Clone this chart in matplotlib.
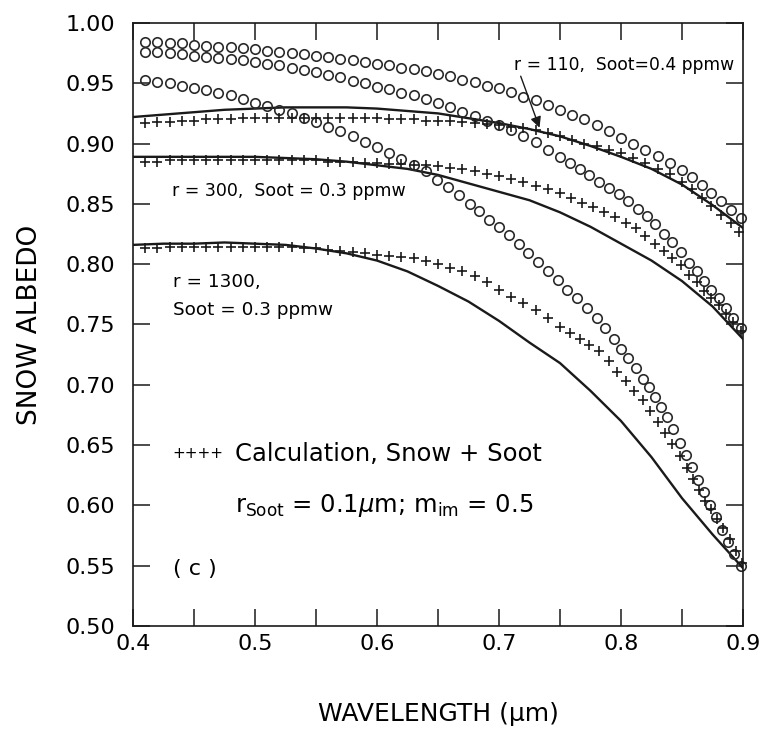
import numpy as np
import matplotlib.pyplot as plt
from matplotlib.ticker import MultipleLocator, FormatStrFormatter

# --- data ---
# r = 110 um
wl_r110_snow = [0.41, 0.42, 0.43, 0.44, 0.45, 0.46, 0.47, 0.48, 0.49, 0.50,
                0.51, 0.52, 0.53, 0.54, 0.55, 0.56, 0.57, 0.58, 0.59, 0.60,
                0.61, 0.62, 0.63, 0.64, 0.65, 0.66, 0.67, 0.68, 0.69, 0.70,
                0.71, 0.72, 0.73, 0.74, 0.75, 0.76, 0.77, 0.78, 0.79, 0.80,
                0.81, 0.82, 0.83, 0.84, 0.85, 0.858, 0.866, 0.874, 0.882, 0.890, 0.898]
alb_r110_snow = [0.984, 0.984, 0.983, 0.983, 0.982, 0.981, 0.980, 0.980, 0.979, 0.978,
                 0.977, 0.976, 0.975, 0.974, 0.973, 0.972, 0.970, 0.969, 0.968, 0.966,
                 0.965, 0.963, 0.962, 0.960, 0.958, 0.956, 0.953, 0.951, 0.948, 0.946,
                 0.943, 0.939, 0.936, 0.932, 0.928, 0.924, 0.920, 0.915, 0.910, 0.905,
                 0.900, 0.895, 0.890, 0.884, 0.878, 0.872, 0.866, 0.859, 0.852, 0.845, 0.838]

wl_r110_soot = [0.41, 0.42, 0.43, 0.44, 0.45, 0.46, 0.47, 0.48, 0.49, 0.50,
                0.51, 0.52, 0.53, 0.54, 0.55, 0.56, 0.57, 0.58, 0.59, 0.60,
                0.61, 0.62, 0.63, 0.64, 0.65, 0.66, 0.67, 0.68, 0.69, 0.70,
                0.71, 0.72, 0.73, 0.74, 0.75, 0.76, 0.77, 0.78, 0.79, 0.80,
                0.81, 0.82, 0.83, 0.84, 0.85, 0.858, 0.866, 0.874, 0.882, 0.890, 0.897]
alb_r110_soot = [0.917, 0.918, 0.918, 0.919, 0.919, 0.920, 0.920, 0.920, 0.921, 0.921,
                 0.921, 0.921, 0.921, 0.921, 0.921, 0.921, 0.921, 0.921, 0.921, 0.921,
                 0.920, 0.920, 0.920, 0.919, 0.919, 0.919, 0.918, 0.917, 0.916, 0.915,
                 0.914, 0.913, 0.911, 0.909, 0.906, 0.903, 0.900, 0.898, 0.895, 0.892,
                 0.888, 0.884, 0.879, 0.875, 0.868, 0.862, 0.855, 0.848, 0.841, 0.834, 0.827]

wl_r110_line = [0.400, 0.425, 0.450, 0.475, 0.500, 0.525, 0.550, 0.575, 0.600, 0.625, 0.650,
                0.675, 0.700, 0.725, 0.750, 0.775, 0.800, 0.825, 0.850, 0.875, 0.900]
alb_r110_line = [0.922, 0.924, 0.926, 0.928, 0.929, 0.930, 0.930, 0.930, 0.929, 0.927, 0.925,
                 0.921, 0.917, 0.912, 0.906, 0.898, 0.889, 0.879, 0.866, 0.849, 0.830]

# r = 300 um
wl_r300_snow = [0.41, 0.42, 0.43, 0.44, 0.45, 0.46, 0.47, 0.48, 0.49, 0.50,
                0.51, 0.52, 0.53, 0.54, 0.55, 0.56, 0.57, 0.58, 0.59, 0.60,
                0.61, 0.62, 0.63, 0.64, 0.65, 0.66, 0.67, 0.68, 0.69, 0.70,
                0.71, 0.72, 0.73, 0.74, 0.75, 0.758, 0.766, 0.774, 0.782, 0.790,
                0.798, 0.806, 0.814, 0.821, 0.828, 0.835, 0.842, 0.849, 0.856, 0.862,
                0.868, 0.874, 0.880, 0.886, 0.892, 0.898]
alb_r300_snow = [0.976, 0.976, 0.975, 0.974, 0.973, 0.972, 0.971, 0.970, 0.969, 0.968,
                 0.966, 0.965, 0.963, 0.961, 0.959, 0.957, 0.955, 0.952, 0.950, 0.947,
                 0.945, 0.942, 0.940, 0.937, 0.934, 0.930, 0.926, 0.923, 0.919, 0.915,
                 0.911, 0.906, 0.901, 0.895, 0.889, 0.884, 0.879, 0.874, 0.868, 0.863,
                 0.858, 0.852, 0.846, 0.840, 0.833, 0.825, 0.818, 0.810, 0.801, 0.794,
                 0.786, 0.779, 0.772, 0.764, 0.755, 0.747]

wl_r300_soot = [0.41, 0.42, 0.43, 0.44, 0.45, 0.46, 0.47, 0.48, 0.49, 0.50,
                0.51, 0.52, 0.53, 0.54, 0.55, 0.56, 0.57, 0.58, 0.59, 0.60,
                0.61, 0.62, 0.63, 0.64, 0.65, 0.66, 0.67, 0.68, 0.69, 0.70,
                0.71, 0.72, 0.73, 0.74, 0.75, 0.759, 0.768, 0.777, 0.786, 0.795,
                0.804, 0.812, 0.820, 0.828, 0.835, 0.842, 0.849, 0.856, 0.862, 0.868,
                0.874, 0.880, 0.886, 0.892, 0.898]
alb_r300_soot = [0.885, 0.885, 0.886, 0.886, 0.886, 0.886, 0.886, 0.886, 0.886, 0.886,
                 0.886, 0.886, 0.886, 0.886, 0.886, 0.885, 0.885, 0.885, 0.884, 0.884,
                 0.883, 0.883, 0.882, 0.882, 0.881, 0.880, 0.879, 0.877, 0.875, 0.873,
                 0.871, 0.868, 0.865, 0.862, 0.859, 0.855, 0.851, 0.847, 0.843, 0.839,
                 0.834, 0.830, 0.823, 0.817, 0.811, 0.805, 0.799, 0.791, 0.785, 0.778,
                 0.772, 0.766, 0.759, 0.752, 0.745]

wl_r300_line = [0.400, 0.425, 0.450, 0.475, 0.500, 0.525, 0.550, 0.575, 0.600, 0.625, 0.650,
                0.675, 0.700, 0.725, 0.750, 0.775, 0.800, 0.825, 0.850, 0.875, 0.900]
alb_r300_line = [0.889, 0.889, 0.889, 0.889, 0.889, 0.888, 0.887, 0.885, 0.882, 0.879, 0.874,
                 0.867, 0.860, 0.853, 0.843, 0.831, 0.817, 0.803, 0.786, 0.765, 0.738]

# r = 1300 um
wl_r1300_snow = [0.41, 0.42, 0.43, 0.44, 0.45, 0.46, 0.47, 0.48, 0.49, 0.50,
                 0.51, 0.52, 0.53, 0.54, 0.55, 0.56, 0.57, 0.58, 0.59, 0.60,
                 0.61, 0.62, 0.63, 0.64, 0.649, 0.658, 0.667, 0.676, 0.684, 0.692,
                 0.700, 0.708, 0.716, 0.724, 0.732, 0.740, 0.748, 0.756, 0.764, 0.772,
                 0.780, 0.787, 0.794, 0.800, 0.806, 0.812, 0.818, 0.823, 0.828, 0.833,
                 0.838, 0.843, 0.848, 0.853, 0.858, 0.863, 0.868, 0.873, 0.878, 0.883,
                 0.888, 0.893, 0.898]
alb_r1300_snow = [0.953, 0.951, 0.950, 0.948, 0.946, 0.944, 0.942, 0.940, 0.937, 0.934,
                  0.931, 0.928, 0.925, 0.921, 0.918, 0.914, 0.910, 0.906, 0.901, 0.897,
                  0.892, 0.887, 0.882, 0.877, 0.870, 0.864, 0.857, 0.850, 0.844, 0.837,
                  0.831, 0.824, 0.817, 0.809, 0.802, 0.794, 0.787, 0.779, 0.772, 0.764,
                  0.755, 0.747, 0.738, 0.730, 0.722, 0.714, 0.705, 0.698, 0.690, 0.682,
                  0.673, 0.663, 0.652, 0.642, 0.632, 0.621, 0.611, 0.600, 0.590, 0.580,
                  0.570, 0.560, 0.550]

wl_r1300_soot = [0.41, 0.42, 0.43, 0.44, 0.45, 0.46, 0.47, 0.48, 0.49, 0.50,
                 0.51, 0.52, 0.53, 0.54, 0.55, 0.56, 0.57, 0.58, 0.59, 0.60,
                 0.61, 0.62, 0.63, 0.64, 0.65, 0.66, 0.67, 0.68, 0.69, 0.70,
                 0.71, 0.72, 0.73, 0.74, 0.75, 0.758, 0.766, 0.774, 0.782, 0.790,
                 0.797, 0.804, 0.811, 0.818, 0.824, 0.830, 0.836, 0.842, 0.848, 0.854,
                 0.859, 0.864, 0.869, 0.874, 0.879, 0.884, 0.889, 0.894, 0.899]
alb_r1300_soot = [0.813, 0.813, 0.814, 0.814, 0.814, 0.814, 0.814, 0.814, 0.814, 0.814,
                  0.814, 0.814, 0.814, 0.813, 0.813, 0.812, 0.811, 0.810, 0.809, 0.808,
                  0.807, 0.806, 0.805, 0.803, 0.800, 0.797, 0.794, 0.790, 0.785, 0.779,
                  0.773, 0.768, 0.762, 0.755, 0.748, 0.743, 0.738, 0.733, 0.728, 0.720,
                  0.711, 0.703, 0.695, 0.687, 0.678, 0.669, 0.660, 0.651, 0.641, 0.631,
                  0.622, 0.613, 0.604, 0.597, 0.589, 0.581, 0.572, 0.562, 0.552]

wl_r1300_line = [0.400, 0.425, 0.450, 0.475, 0.500, 0.525, 0.550, 0.575, 0.600, 0.625, 0.650,
                 0.675, 0.700, 0.725, 0.750, 0.775, 0.800, 0.825, 0.850, 0.875, 0.900]
alb_r1300_line = [0.816, 0.817, 0.817, 0.818, 0.817, 0.816, 0.813, 0.809, 0.803, 0.794, 0.782,
                  0.769, 0.753, 0.735, 0.718, 0.695, 0.670, 0.640, 0.606, 0.576, 0.548]

snow_sets = [(wl_r110_snow, alb_r110_snow), (wl_r300_snow, alb_r300_snow), (wl_r1300_snow, alb_r1300_snow)]
soot_sets = [(wl_r110_soot, alb_r110_soot), (wl_r300_soot, alb_r300_soot), (wl_r1300_soot, alb_r1300_soot)]
line_sets = [(wl_r110_line, alb_r110_line), (wl_r300_line, alb_r300_line), (wl_r1300_line, alb_r1300_line)]

# --- plotting ---
fig = plt.figure(figsize=(7.63, 7.40), dpi=100)
ax = fig.add_axes([0.1743, 0.154, 0.7995, 0.815])

ink = '#1a1a1a'
for wl, alb in line_sets:
    ax.plot(wl, alb, color=ink, linewidth=1.7)
for wl, alb in snow_sets:
    ax.plot(wl, alb, linestyle='none', marker='o', markersize=6.8, markerfacecolor='none',
            markeredgecolor='#2a2a2a', markeredgewidth=1.2, clip_on=False)
for wl, alb in soot_sets:
    ax.plot(wl, alb, linestyle='none', marker='+', markersize=7.2, markeredgecolor=ink,
            markeredgewidth=1.2, clip_on=False)

ax.set_xlim(0.4, 0.9)
ax.set_ylim(0.5, 1.0)
ax.xaxis.set_major_locator(MultipleLocator(0.1))
ax.xaxis.set_minor_locator(MultipleLocator(0.05))
ax.xaxis.set_major_formatter(FormatStrFormatter('%.1f'))
ax.yaxis.set_major_locator(MultipleLocator(0.05))
ax.yaxis.set_major_formatter(FormatStrFormatter('%.2f'))
ax.tick_params(which='both', direction='in', top=True, right=True, length=12, width=1.1, color=ink)
ax.tick_params(axis='x', which='major', labelsize=16, pad=6)
ax.tick_params(axis='y', which='major', labelsize=16, pad=13)
for s in ax.spines.values():
    s.set_linewidth(1.2)
    s.set_color(ink)

ax.set_xlabel('WAVELENGTH (\u03bcm)', fontsize=18, labelpad=34)
ax.set_ylabel('SNOW ALBEDO', fontsize=19, labelpad=16)

# annotations
ax.text(0.712, 0.965, 'r = 110,  Soot=0.4 ppmw', fontsize=12.3, va='center')
ax.annotate('', xy=(0.734, 0.911), xytext=(0.717, 0.958),
            arrowprops=dict(arrowstyle='-|>', color=ink, lw=1.0, mutation_scale=16))
ax.text(0.432, 0.861, 'r = 300,  Soot = 0.3 ppmw', fontsize=12.5, va='center')
ax.text(0.433, 0.785, 'r = 1300,', fontsize=13.2, va='center')
ax.text(0.433, 0.762, 'Soot = 0.3 ppmw', fontsize=13.2, va='center')
ax.text(0.432, 0.643, '++++', fontsize=11, va='center')
ax.text(0.4835, 0.643, 'Calculation, Snow + Soot', fontsize=17.5, va='center')
ax.text(0.4835, 0.600, r'r$_{\mathrm{Soot}}$ = 0.1$\mu$m; m$_{\mathrm{im}}$ = 0.5', fontsize=17.5, va='center')
ax.text(0.433, 0.547, '( c )', fontsize=16, va='center')

fig.savefig('out.png', dpi=100)
